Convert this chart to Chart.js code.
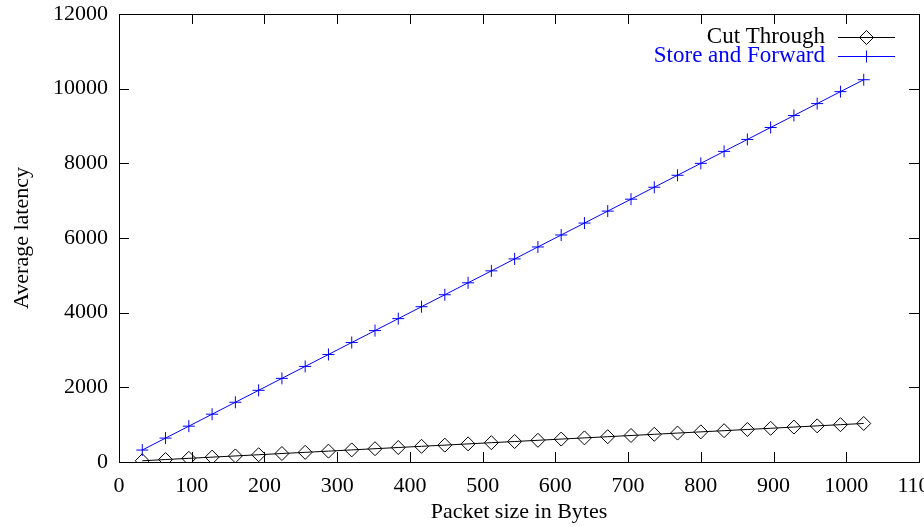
<!DOCTYPE html>
<html lang="en">
<head>
  <meta charset="UTF-8" />
  <title>Cut Through vs Store and Forward</title>
  <script src="https://cdn.jsdelivr.net/npm/chart.js"></script>
  <style>
    html, body {
      margin: 0;
      padding: 0;
      background: #ffffff;
      overflow: hidden;
    }
    #wrap {
      width: 960px;
      height: 527px;
    }
  </style>
</head>
<body>
  <div id="wrap">
    <canvas id="latencyChart" width="960" height="527"></canvas>
  </div>

  <script>
    // Data
    const packetSizes = [32, 64, 96, 128, 160, 192, 224, 256, 288, 320, 352, 384, 416, 448, 480, 512,
                         544, 576, 608, 640, 672, 704, 736, 768, 800, 832, 864, 896, 928, 960, 992, 1024];
    const cutThrough = [33, 66, 98, 130, 162, 195, 227, 259, 291, 324, 356, 388, 420, 452, 485, 517,
                        549, 581, 614, 646, 678, 710, 742, 775, 807, 839, 871, 903, 936, 968, 1000, 1032];
    const storeForward = [320, 640, 960, 1280, 1600, 1920, 2240, 2560, 2880, 3200, 3520, 3840, 4160, 4480, 4800, 5120,
                          5440, 5760, 6080, 6400, 6720, 7040, 7360, 7680, 8000, 8320, 8640, 8960, 9280, 9600, 9920, 10240];
    const seriesNames = ['Cut Through', 'Store and Forward'];

    const FONT = 'Liberation Serif';
    const FONT_SIZE = 22;
    const KEY_FONT_SIZE = 23;

    // gnuplot-like frame with inward ticks on all four sides, plus key in top right
    const framePlugin = {
      id: 'frame',
      afterDatasetsDraw(chart) {
        const { ctx, chartArea: a, scales: { x, y } } = chart;
        const tl = 10;
        ctx.save();
        ctx.strokeStyle = '#000';
        ctx.lineWidth = 1;
        ctx.beginPath();
        x.ticks.forEach(t => {
          const px = Math.round(x.getPixelForValue(t.value)) + 0.5;
          ctx.moveTo(px, a.bottom);
          ctx.lineTo(px, a.bottom - tl);
          ctx.moveTo(px, a.top);
          ctx.lineTo(px, a.top + tl);
        });
        y.ticks.forEach(t => {
          const py = Math.round(y.getPixelForValue(t.value)) + 0.5;
          ctx.moveTo(a.left, py);
          ctx.lineTo(a.left + tl, py);
          ctx.moveTo(a.right, py);
          ctx.lineTo(a.right - tl, py);
        });
        ctx.stroke();
        ctx.strokeRect(Math.round(a.left) + 0.5, Math.round(a.top) + 0.5,
                       Math.round(a.right - a.left), Math.round(a.bottom - a.top));

        // key
        ctx.font = KEY_FONT_SIZE + 'px "' + FONT + '"';
        ctx.textAlign = 'right';
        ctx.textBaseline = 'middle';
        chart.data.datasets.forEach((ds, i) => {
          const ky = a.top + 23 + i * 19;
          const textRight = a.right - 94;
          const x0 = a.right - 81, x1 = a.right - 24;
          ctx.fillStyle = ds.borderColor;
          ctx.fillText(ds.label, textRight, ky);
          ctx.strokeStyle = ds.borderColor;
          ctx.beginPath();
          ctx.moveTo(x0, ky + 0.5);
          ctx.lineTo(x1, ky + 0.5);
          ctx.stroke();
          ctx.fillStyle = 'rgba(0,0,0,0)';
          Chart.helpers.drawPoint(ctx, {
            pointStyle: ds.pointStyle,
            radius: ds.pointRadius,
            borderWidth: 1
          }, (x0 + x1) / 2, ky + 0.5);
        });
        ctx.restore();
      }
    };

    const ctx = document.getElementById('latencyChart').getContext('2d');
    new Chart(ctx, {
      type: 'line',
      data: {
        labels: packetSizes,
        datasets: [
          {
            label: seriesNames[0],
            data: packetSizes.map((p, i) => ({ x: p, y: cutThrough[i] })),
            borderColor: '#000000',
            backgroundColor: 'rgba(0,0,0,0)',
            borderWidth: 1,
            pointStyle: 'rectRot',
            pointRadius: 7,
            pointBorderWidth: 1,
            pointBackgroundColor: 'rgba(0,0,0,0)',
            tension: 0
          },
          {
            label: seriesNames[1],
            data: packetSizes.map((p, i) => ({ x: p, y: storeForward[i] })),
            borderColor: '#0000ff',
            backgroundColor: 'rgba(0,0,0,0)',
            borderWidth: 1,
            pointStyle: 'cross',
            pointRadius: 6,
            pointBorderWidth: 1,
            tension: 0
          }
        ]
      },
      options: {
        responsive: false,
        animation: false,
        layout: {
          padding: { top: 14, right: 41, bottom: 0, left: 0 }
        },
        plugins: {
          legend: { display: false },
          tooltip: { enabled: false }
        },
        scales: {
          x: {
            type: 'linear',
            min: 0,
            max: 1100,
            grid: { display: false, drawTicks: false },
            border: { display: false },
            ticks: {
              stepSize: 100,
              padding: 11,
              color: '#000',
              maxRotation: 0,
              font: { family: FONT, size: FONT_SIZE },
              callback: v => String(v)
            },
            title: {
              display: true,
              text: 'Packet size in Bytes',
              color: '#000',
              padding: { top: 0, bottom: 2 },
              font: { family: FONT, size: FONT_SIZE }
            },
            afterFit(scale) { scale.height = 65; }
          },
          y: {
            min: 0,
            max: 12000,
            grid: { display: false, drawTicks: false },
            border: { display: false },
            ticks: {
              stepSize: 2000,
              padding: 11,
              color: '#000',
              font: { family: FONT, size: FONT_SIZE },
              callback: v => String(v)
            },
            title: {
              display: true,
              text: 'Average latency',
              color: '#000',
              padding: { top: 9, bottom: 0 },
              font: { family: FONT, size: FONT_SIZE }
            },
            afterFit(scale) {
              scale.width = 119;
              scale.paddingTop = 0;
              scale.paddingBottom = 0;
            }
          }
        }
      },
      plugins: [framePlugin]
    });
  </script>
</body>
</html>
